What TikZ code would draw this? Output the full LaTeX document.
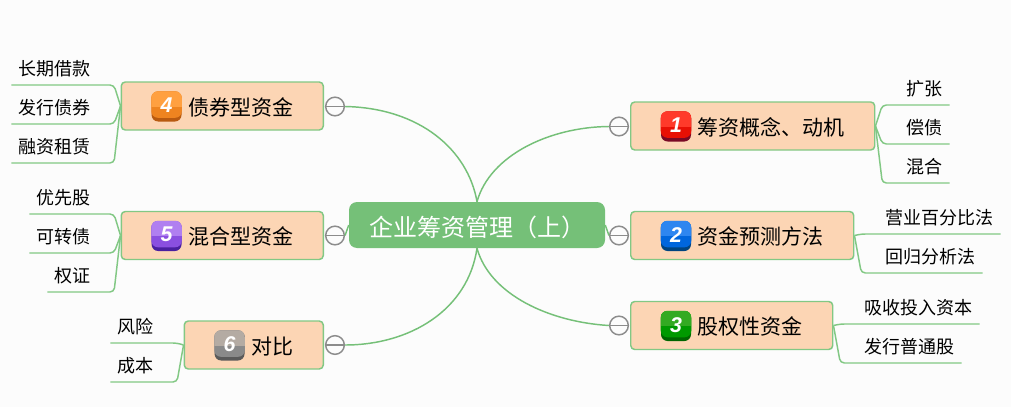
\documentclass[tikz,border=0pt]{standalone}
\usepackage{fontspec}
\setmainfont{Noto Sans CJK SC}
\newfontfamily\iconfont{Liberation Sans}
\usetikzlibrary{positioning}
\definecolor{pagebg}{RGB}{252,252,252}
\definecolor{mapgreen}{RGB}{117,192,120}
\definecolor{linegreen}{RGB}{130,200,132}
\definecolor{branchfill}{RGB}{252,213,180}
\definecolor{collapsegray}{RGB}{140,140,140}
\definecolor{redtop}{RGB}{255,58,42}
\definecolor{redmid}{RGB}{232,16,5}
\definecolor{reddark}{RGB}{122,10,37}
\definecolor{bluetop}{RGB}{46,134,240}
\definecolor{bluemid}{RGB}{0,102,221}
\definecolor{bluedark}{RGB}{0,68,128}
\definecolor{greentop}{RGB}{51,170,34}
\definecolor{greenmid}{RGB}{0,153,0}
\definecolor{greendark}{RGB}{0,102,0}
\definecolor{orangetop}{RGB}{255,160,64}
\definecolor{orangemid}{RGB}{238,132,32}
\definecolor{orangedark}{RGB}{184,90,16}
\definecolor{purpletop}{RGB}{176,127,240}
\definecolor{purplemid}{RGB}{138,79,224}
\definecolor{purpledark}{RGB}{74,32,160}
\definecolor{graytop}{RGB}{180,171,163}
\definecolor{graymid}{RGB}{138,138,138}
\definecolor{graydark}{RGB}{90,90,90}
\tikzset{
	rootnode/.style={fill=mapgreen,text=white,rounded corners=6pt,inner xsep=15pt,inner ysep=0pt,minimum height=34.5pt,text height=20pt,text depth=3pt,font=\fontsize{18}{20}\selectfont},
	branchnode/.style={draw=linegreen,fill=branchfill,line width=1.1pt,rounded corners=3pt,inner xsep=22.5pt,inner ysep=0pt,minimum height=36pt,text height=16pt,text depth=2.5pt,font=\fontsize{15.75}{18}\selectfont},
	subnode/.style={inner xsep=5.25pt,inner ysep=0pt,minimum height=25pt,text height=13.2pt,text depth=2pt,font=\fontsize{13.5}{15}\selectfont},
	mainline/.style={draw=mapgreen,line width=1.1pt},
	subline/.style={draw=linegreen,line width=1.1pt,rounded corners=3pt},
	collapse/.style={circle,draw=collapsegray,fill=pagebg,line width=1.1pt,minimum size=14pt,inner sep=0pt},
	iconbase/.style={rounded corners=5pt,minimum size=22.5pt,inner sep=0pt}
}
\newcommand{\branchtext}[1]{\hspace*{27.75pt}#1}

\begin{document}
\begin{tikzpicture}[x=0.75pt,y=-0.75pt]
	\useasboundingbox[fill=pagebg] (0,0) rectangle (1011,407);

	% root and branches
	\node[rootnode] (root) at (477,225) {企业筹资管理（上）};
	\node[branchnode,anchor=west] (b1) at (630,126) {\branchtext{筹资概念、动机}};
	\node[branchnode,anchor=west] (b2) at (630,235.5) {\branchtext{资金预测方法}};
	\node[branchnode,anchor=west] (b3) at (630,325.5) {\branchtext{股权性资金}};
	\node[branchnode,anchor=east] (b4) at (324,106) {\branchtext{债券型资金}};
	\node[branchnode,anchor=east] (b5) at (324,235.5) {\branchtext{混合型资金}};
	\node[branchnode,anchor=east] (b6) at (324,345) {\branchtext{对比}};

	% collapse marks
	\node[collapse] (c1) at (619,126.5) {};
	\node[collapse] (c2) at (619,235.5) {};
	\node[collapse] (c3) at (619,325.5) {};
	\node[collapse] (c4) at (335,106.5) {};
	\node[collapse] (c5) at (335,235.5) {};
	\node[collapse] (c6) at (335,345) {};
	\foreach \c in {c1,c2,c3,c4,c5,c6}
		\draw[collapsegray,line width=1.1pt] (\c.west) -- (\c.east);

	% root to branches
	\draw[mainline] (root.north) .. controls (490,155) and (550,127) .. (c1.west);
	\draw[mainline] (root.east) -- (c2.west);
	\draw[mainline] (root.south) .. controls (490,295) and (550,322) .. (c3.west);
	\draw[mainline] (root.north) .. controls (468,150) and (420,108) .. (c4.east);
	\draw[mainline] (root.west) -- (c5.east);
	\draw[mainline] (root.south) .. controls (468,310) and (410,345) .. (c6.east);

	% leaves on the right
	\node[subnode,anchor=south west] (s11) at (899,105) {扩张};
	\node[subnode,anchor=south west] (s12) at (899,144) {偿债};
	\node[subnode,anchor=south west] (s13) at (899,183) {混合};
	\node[subnode,anchor=south west] (s21) at (878,234) {营业百分比法};
	\node[subnode,anchor=south west] (s22) at (878,273) {回归分析法};
	\node[subnode,anchor=south west] (s31) at (857,324) {吸收投入资本};
	\node[subnode,anchor=south west] (s32) at (857,363) {发行普通股};
	% leaves on the left
	\node[subnode,anchor=south east] (s41) at (98,85) {长期借款};
	\node[subnode,anchor=south east] (s42) at (98,124) {发行债券};
	\node[subnode,anchor=south east] (s43) at (98,163) {融资租赁};
	\node[subnode,anchor=south east] (s51) at (98,214) {优先股};
	\node[subnode,anchor=south east] (s52) at (98,253) {可转债};
	\node[subnode,anchor=south east] (s53) at (98,292) {权证};
	\node[subnode,anchor=south east] (s61) at (161,343) {风险};
	\node[subnode,anchor=south east] (s62) at (161,382) {成本};

	\foreach \s/\b in {s11/b1,s12/b1,s13/b1,s21/b2,s22/b2,s31/b3,s32/b3}
		\draw[subline] (\b.east) -- ([xshift=-12.5pt]\s.south west) -- (\s.south east);
	\foreach \s/\b in {s41/b4,s42/b4,s43/b4,s51/b5,s52/b5,s53/b5,s61/b6,s62/b6}
		\draw[subline] (\b.west) -- ([xshift=12pt]\s.south east) -- (\s.south west);

	% number icons
	\foreach \b/\i/\hue in {b1/1/red,b2/2/blue,b3/3/green,b4/4/orange,b5/5/purple,b6/6/gray}
	{
		\node[iconbase,fill=\hue dark] (ic\b) at ([xshift=34.5pt,yshift=-0.4pt]\b.west) {};
		\fill[\hue mid,rounded corners=5pt] (ic\b.north west) rectangle ([yshift=3pt]ic\b.south east);
		\begin{scope}
			\clip[rounded corners=5pt] (ic\b.north west) rectangle (ic\b.south east);
			\fill[\hue top] (ic\b.north west) rectangle (ic\b.east);
		\end{scope}
		\node[text=white,inner sep=0pt,font=\iconfont\bfseries\itshape\fontsize{16}{16}\selectfont] (num\b) at ([yshift=1pt]ic\b.center) {\i};
	}
\end{tikzpicture}
\end{document}
